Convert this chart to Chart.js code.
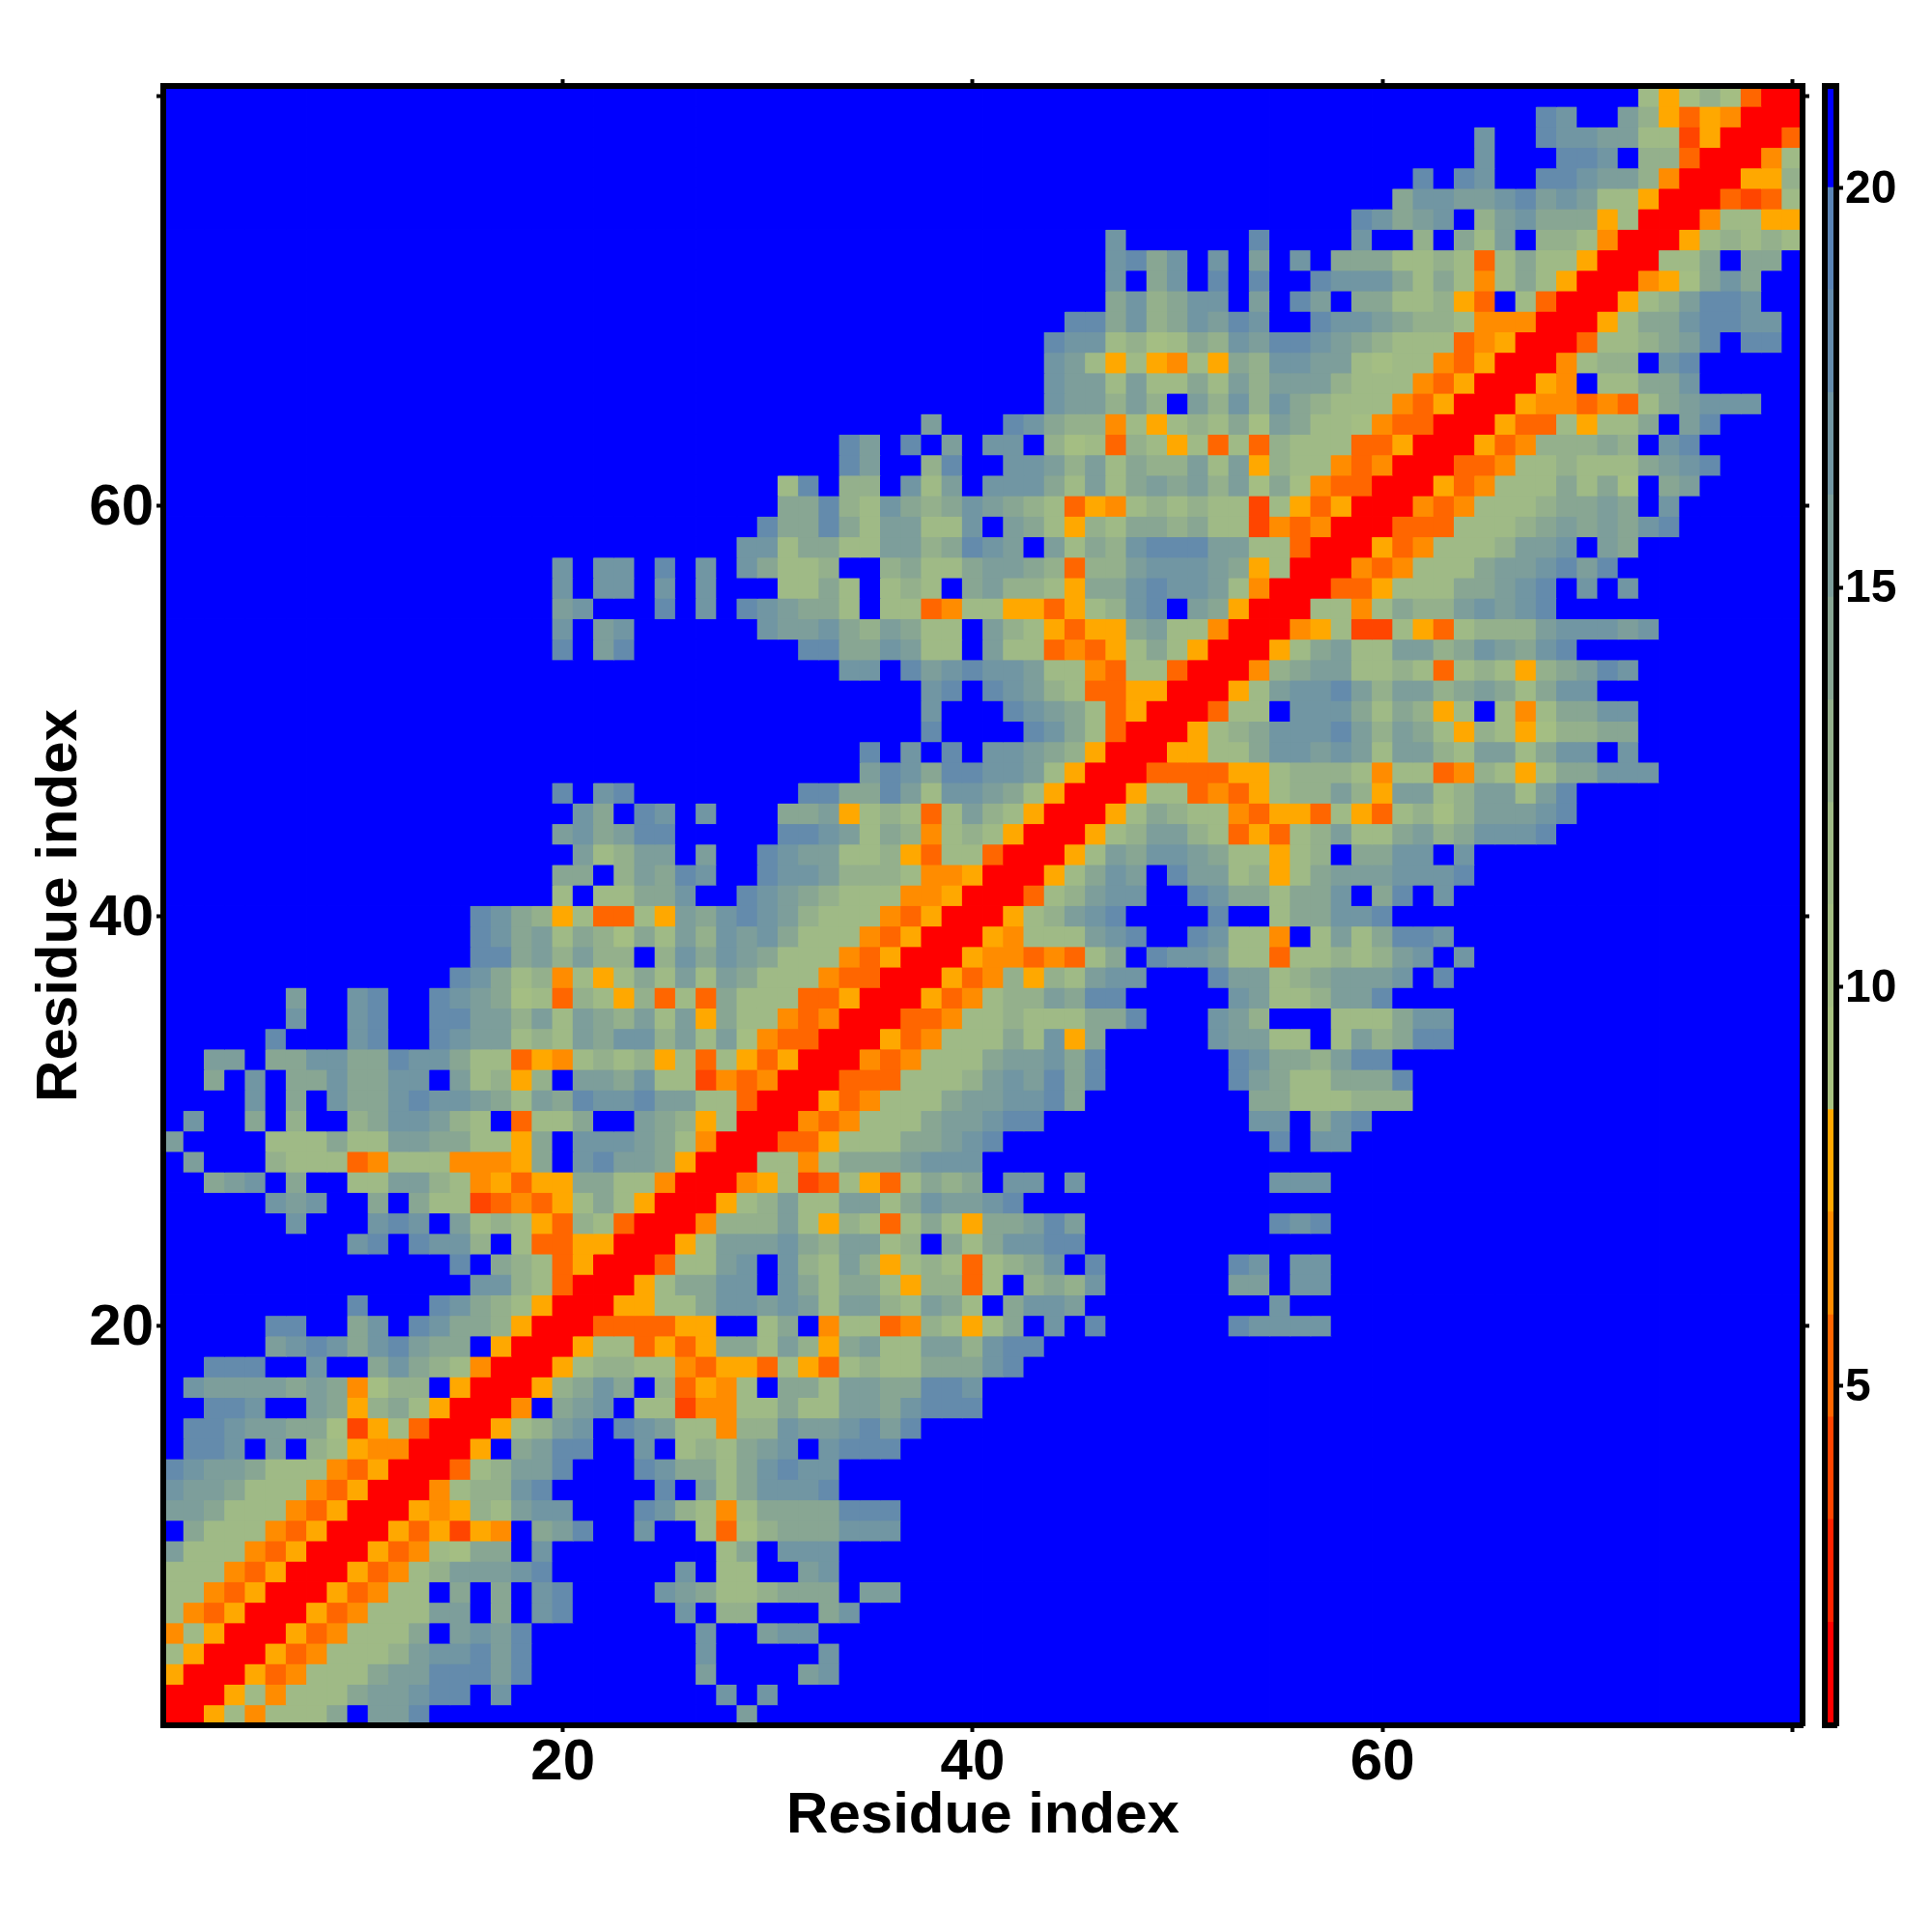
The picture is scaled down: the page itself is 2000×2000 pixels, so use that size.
<!DOCTYPE html>
<html>
<head>
<meta charset="utf-8">
<title>Residue index</title>
<script src="https://cdn.jsdelivr.net/npm/chart.js@4/dist/chart.umd.min.js"></script>
<style>
  body { margin: 0; background: #fff; }
  canvas { position: absolute; left: 0; top: 0; }
</style>
</head>
<body>
<canvas id="mapChart" width="2000" height="2000"></canvas>
<canvas id="barChart" width="2000" height="2000"></canvas>
<script>
// one hex digit per residue = colour level, first line is residue 80, last is residue 1
const rows = [
  "ffffffffffffffffffff ffffffffffffffffffff ffffffffffffffffffff ffffffffffff85797300",
  "ffffffffffffffffffff ffffffffffffffffffff ffffffffffffffffffff fffffffdcffb95354000",
  "ffffffffffffffffffff ffffffffffffffffffff ffffffffffffffffffff ffffcffdccbb88250003",
  "ffffffffffffffffffff ffffffffffffffffffff ffffffffffffffffffff ffffcfffddcf99300048",
  "ffffffffffffffffffff ffffffffffffffffffff ffffffffffffffffffff fdfdcffddcbb94000559",
  "ffffffffffffffffffff ffffffffffffffffffff ffffffffffffffffffff accbbcdbcb8850003238",
  "ffffffffffffffffffff ffffffffffffffffffff ffffffffffffffffffdc abcf9bcaaa5800048855",
  "ffffffffffffffffffff ffffffffffffffffffff ffffffcffffffdffffcf f9fa8bf9984000589898",
  "ffffffffffffffffffff ffffffffffffffffffff ffffffcdacfcfbfcfaaa 889838a88500088afaaf",
  "ffffffffffffffffffff ffffffffffffffffffff ffffffcfacfdfdffdccc a8a848a85000457acaff",
  "ffffffffffffffffffff ffffffffffffffffffff ffffffac9accfbfdbfaa 88953f83000589bddcff",
  "ffffffffffffffffffff ffffffffffffffffffff ffffddac9acbdcffdccb a99844400058aacddccf",
  "ffffffffffffffffffff ffffffffffffffffffff fffdcc8978a9cbddcba9 8883450003889abdfddf",
  "ffffffffffffffffffff ffffffffffffffffffff fffcb8585485a9ccbb87 884350004899fcdfffff",
  "ffffffffffffffffffff ffffffffffffffffffff fffcbb8b88a8b9bbb988 843500054f88aacfffff",
  "ffffffffffffffffffff ffffffffffffffffffff fffcbb9b9fb9c9ca9888 4350005443438abcccff",
  "ffffffffffffffffffff fffffffffffffffffbff fdca99485898a7ba8874 330005338588afbdffff",
  "ffffffffffffffffffff fffffffffffffdbfdfbf ccf97839858383988833 5000534999a9fcdfffff",
  "ffffffffffffffffffff fffffffffffffdbff9df fccb9b8a99b8b5988434 000334889888abcdffff",
  "ffffffffffffffffffff ffffffffff8df99fc8bf ccca8b8abab9b7a74330 00534888a8a7fabfffff",
  "ffffffffffffffffffff ffffffffffaad98ca9ac ba983548989882853500 04348889aabafcffffff",
  "ffffffffffffffffffff fffffffffdaada8bb88c fba8598aa9a882434000 3338889ababacdffffff",
  "ffffffffffffffffffff ffffffffcc8aa88bb9ad cbfb8a9cdddbb8830005 348889bbcfbaffffffff",
  "fffffffffffffffffffc fccfdfcfca889ff9a88a bba9399bcccba5800043 4888abbcdbdfffffffff",
  "fffffffffffffffffffc fccfcfcfff88a8f898fa b9985aacdccb84000335 888aabcdfcfcffffffff",
  "fffffffffffffffffffb cfffdfcfdcbaa8f88348 8553589cdfba50008848 a99bcbcdffffffffffff",
  "fffffffffffffffffffc fbcffffffcbbca9ba88f b985355ab88400045822 8538999bcccbcfffffff",
  "fffffffffffffffffffd fbdffffffffddaacb88f b8834358a8500058ab88 bb9acbacdfffffffffff",
  "ffffffffffffffffffff fffffffffffffccfdbcd ccb884388300049abb88 98389859abdcffffffff",
  "ffffffffffffffffffff fffffffffffffffffcdf dcb98335500058bccdb9 bb9aba8accffffffffff",
  "ffffffffffffffffffff fffffffffffffffffcff fdcba835000388fccca8 a958f848aaccffffffff",
  "ffffffffffffffffffff fffffffffffffffffdff ffdca83000589acccdb9 ba85985799aaffffffff",
  "ffffffffffffffffffff ffffffffffffffdfcfdf ccba950005588accbcb8 bb98bb8accfcffffffff",
  "ffffffffffffffffffff ffffffffffffffbdcadd ccb85000333355899984 88349858aacccfffffff",
  "fffffffffffffffffffd fcdffffffffddaadb8cc ba850005883435899b95 bb89bb8bdfffffffffff",
  "ffffffffffffffffffff cafdcfcfffaab589838b 98500058a98843553853 8979bbbcdfffffffffff",
  "fffffffffffffffffffb cabddfffffddcb8a9489 85000589bb9835389b88 ab9acccdffffffffffff",
  "ffffffffffffffffffff b89bbfbffdcbb8895388 300058baccba88589faa ccfcffffffffffffffff",
  "fffffffffffffffffffa af9badcffdccb9998445 00058acbfdbb8958abbb cccdffffffffffffffff",
  "fffffffffffffffffff8 f88aacffdcba98884450 00389bccffdcaa8aacfa dfcfffffffffffffffff",
  "fffffffffffffffdca95 83385bacdcb988843500 0589bcdffffdff8aaccd ffffffffffffffffffff",
  "fffffffffffffffdcab8 a97a8b9cbca888435000 54888bcdffdc884f8b8a ddcfffffffffffffffff",
  "fffffffffffffffddab9 b99f9cacba8884350005 443438afdccb88388989 bcfcffffffffffffffff",
  "ffffffffffffffdca894 858a8b8ba88843300053 49598bccfffdbb89abbb cfdfffffffffffffffff",
  "ffffffbffcdffdcba783 9859383a888335000534 899baddfffffcb889bbd ffffffffffffffffffff",
  "ffffffcffcdffddbb9b8 ba9b8b5a884340003348 89888aadfffcb9fff888 accfffffffffffffffff",
  "fffffdfffcdffdcbb898 bacc9b8b743300053488 8a8c5afffffcbb88f8b9 addfffffffffffffffff",
  "ffbbfaaccaadcca88354 89895838535000434888 abbcadffffffdcaa9bdd ffffffffffffffffffff",
  "ffafcfaacaaccfb8959f bbac8824340003338889 bcbdadffffffdba88aaa dfffffffffffffffffff",
  "ffffcfafcaacdccba8ba dccdbb883000534888ab bccdaffffffffaa88899 9fffffffffffffffffff",
  "fcffaf9ff9accb98f388 affba958000434888abb cddffffffffffccfacdf ffffffffffffffffffff",
  "bffff888a88bbaa885af cccba84000335888aabc dfffffffffffffdfccff ffffffffffffffffffff",
  "fbfff9888348884445af cdbba50008848aaabccc ffffffffffffffffffff ffffffffffffffffffff",
  "ffabcfaff88bb9845355 aa884000458238538a9a fccfcfffffffffcccfff ffffffffffffffffffff",
  "fffffcbcffafa8823435 8a85000589b88bb8acbb cdffffffffffffffffff ffffffffffffffffffff",
  "ffffffcfffcdcfb89853 9830004999b859838a85 aabdbfffffffffdcdfff ffffffffffffffffffff",
  "fffffffffcdfdcc9f833 5500058bbbca9bb89fa8 accddfffffffffffffff ffffffffffffffffffff",
  "ffffffffffffffdfa983 5000388bcfc98b958983 89acfdffffffdcfccfff ffffffffffffffffffff",
  "fffffffffffffffcc983 00058aaccfca8aa85993 8f9a9cffffffbbfccfff ffffffffffffffffffff",
  "fffffffffdfffdca9850 005588accbcb8bb98ba8 faccbfffffffffcfffff ffffffffffffffffffff",
  "fffffddffacfdcaa9500 0333355ff8af48834985 8afcfdffffffdccccfff ffffffffffffffffffff",
  "fffffbcdcacdbaaf5000 5883535aa8b95ab88bb9 cddfffffffffffffffff ffffffffffffffffffff",
  "ffdddffcffaca9840005 89988435538538988aaa cdffffffffffffffffff ffffffffffffffffffff",
  "fcbbbbaba4799f500059 acaf93548faa8bbaaddc ffffffffffffffffffff ffffffffffffffffffff",
  "ffddcffba59a850004fa bcf8824488a88bbacddd ffffffffffffffffffff ffffffffffffffffffff",
  "fddcbbaa72583000589b cfdcb88499cbbcdbdfff ffffffffffffffffffff ffffffffffffffffffff",
  "fddcfbf985440005fabd dffcf898abcfcdddffff ffffffffffffffffffff ffffffffffffffffffff",
  "dcbba888435000389bbd fffdcaa8acdccfffffff ffffffffffffffffffff ffffffffffffffffffff",
  "cbba8884350004899cdf ffffdfb8acccdfffffff ffffffffffffffffffff ffffffffffffffffffff",
  "bba88843500054598bcc fffdc9848aaaadddffff ffffffffffffffffffff ffffffffffffffffffff",
  "fa888435000535254fab dffcff8379aaacccffff ffffffffffffffffffff ffffffffffffffffffff",
  "b88843500053487aafcf fffffff8afcccfffffff ffffffffffffffffffff ffffffffffffffffffff",
  "88843500053489bbbcdf fffffcf88ffbcfffffff ffffffffffffffffffff ffffffffffffffffffff",
  "8843500053488fafafcd ffffcba889aaafbbffff ffffffffffffffffffff ffffffffffffffffffff",
  "8435000534888bbfafcd fffffcf99fffacffffff ffffffffffffffffffff ffffffffffffffffffff",
  "485000534888afbcbdff ffffffcffbccffffffff ffffffffffffffffffff ffffffffffffffffffff",
  "850005348889bccdbdff ffffffcfffffcfffffff ffffffffffffffffffff ffffffffffffffffffff",
  "5000534888abbdddbdff ffffffbffffbcfffffff ffffffffffffffffffff ffffffffffffffffffff",
  "000584888abbcddfcfff fffffffcfcffffffffff ffffffffffffffffffff ffffffffffffffffffff",
  "00584888afbbdfffffff ffffffffbfffffffffff ffffffffffffffffffff ffffffffffffffffffff"
];

// colour bar levels: edges and colours
const levelEdges = [0.75, 2.03, 3.32, 4.6, 5.88, 7.17, 8.45, 9.73, 11.02, 12.3, 13.58, 14.87, 16.15, 17.43, 18.72, 20, 21.28];
const levelColors = ['#ff0000', '#ff2300', '#ff4500', '#ff6600', '#ff8c00', '#ffa800', '#a8c280', '#a4be83', '#9fba86', '#94b08c', '#88a693', '#7d9e9b', '#7196a3', '#648bac', '#5a84b6', '#0000ff'];

const mapTicks = [20, 40, 60, 80];
const mapLabels = ['20', '40', '60', ''];
const barTicks = [5, 10, 15, 20];
const axisTitle = 'Residue index';

const fontName = '"Liberation Sans", Arial, sans-serif';

function setTicks(values) {
  return function(scale) {
    scale.ticks = values.map(function(v) { return { value: v }; });
  };
}

function setSize(prop, size) {
  return function(scale) { scale[prop] = size; };
}

function mapAxis(position, size, showLabels, title) {
  const horizontal = position === 'top' || position === 'bottom';
  const axis = {
    type: 'linear',
    position: position,
    min: 0.5,
    max: 80.5,
    offset: false,
    z: 2,
    afterBuildTicks: setTicks(mapTicks),
    afterFit: setSize(horizontal ? 'height' : 'width', size),
    border: { display: true, color: '#000', width: 6, z: 3 },
    grid: { offset: false, drawOnChartArea: false, drawTicks: true, tickLength: 7, tickWidth: 4, tickColor: '#000' },
    ticks: {
      display: showLabels,
      padding: horizontal ? -4 : 3,
      labelOffset: horizontal ? 0 : 3,
      maxRotation: 0,
      autoSkip: false,
      color: '#000',
      font: { family: fontName, size: 60, weight: 'bold' },
      callback: function(value) { return mapLabels[mapTicks.indexOf(value)]; }
    }
  };
  if (title) {
    axis.title = {
      display: true,
      text: axisTitle,
      color: '#000',
      font: { family: fontName, size: 60, weight: 'bold', lineHeight: 1.2 },
      padding: horizontal ? { top: 0, bottom: 84 } : { top: 26, bottom: 0 }
    };
  }
  return axis;
}

document.addEventListener('DOMContentLoaded', function() {
  // one dataset per row, each cell is a floating bar a hair larger than its slot so no seams show
  const mapSets = rows.map(function(row, r) {
    const cells = row.replace(/ /g, '');
    const residue = rows.length - r;
    const data = [];
    const colors = [];
    for (let i = 0; i < cells.length; i++) {
      data.push({ x: i + 1, y: [residue - 0.52, residue + 0.52] });
      colors.push(levelColors[parseInt(cells[i], 16)]);
    }
    return { data: data, backgroundColor: colors, borderWidth: 0, xAxisID: 'x', yAxisID: 'y' };
  });

  new Chart(document.getElementById('mapChart'), {
    type: 'bar',
    data: { datasets: mapSets },
    options: {
      responsive: false,
      animation: false,
      layout: { padding: 0 },
      plugins: { legend: { display: false }, tooltip: { enabled: false } },
      datasets: { bar: { grouped: false, barPercentage: 1.04, categoryPercentage: 1 } },
      scales: {
        x: mapAxis('bottom', 214, true, true),
        y: mapAxis('left', 169, true, true),
        xTop: mapAxis('top', 89, false, false),
        yRight: mapAxis('right', 134, false, false)
      }
    }
  });

  const barSets = levelColors.map(function(color, i) {
    return { data: [[levelEdges[i], levelEdges[i + 1] + 0.01]], backgroundColor: color, borderWidth: 0, xAxisID: 'x', yAxisID: 'y' };
  });

  function frameAxis(position) {
    return {
      position: position,
      z: 2,
      ticks: { display: false },
      border: { display: true, color: '#000', width: 6, z: 3 },
      grid: { drawOnChartArea: false, drawTicks: false }
    };
  }

  new Chart(document.getElementById('barChart'), {
    type: 'bar',
    data: { labels: [''], datasets: barSets },
    options: {
      responsive: false,
      animation: false,
      layout: { padding: 0 },
      plugins: { legend: { display: false }, tooltip: { enabled: false } },
      datasets: { bar: { grouped: false, barPercentage: 1, categoryPercentage: 1 } },
      scales: {
        x: Object.assign(frameAxis('bottom'), { afterFit: setSize('height', 214) }),
        y: {
          type: 'linear',
          position: 'right',
          min: levelEdges[0],
          max: levelEdges[levelEdges.length - 1],
          z: 2,
          afterBuildTicks: setTicks(barTicks),
          afterFit: setSize('width', 99),
          border: { display: true, color: '#000', width: 6, z: 3 },
          grid: { drawOnChartArea: false, drawTicks: true, tickLength: 7, tickWidth: 4, tickColor: '#000' },
          ticks: {
            padding: 2,
            labelOffset: 2,
            color: '#000',
            font: { family: fontName, size: 48, weight: 'bold' }
          }
        },
        xTop: Object.assign(frameAxis('top'), { type: 'linear', min: 0, max: 1, afterFit: setSize('height', 89) }),
        yLeft: Object.assign(frameAxis('left'), { type: 'linear', min: 0, max: 1, afterFit: setSize('width', 1889) })
      }
    }
  });
});
</script>
</body>
</html>
